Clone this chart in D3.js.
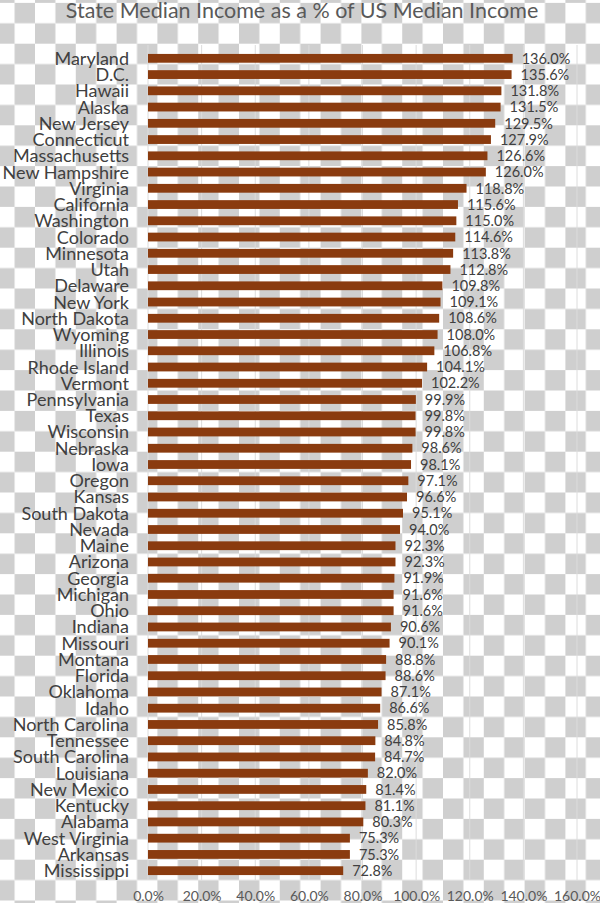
<!DOCTYPE html>
<html>
<head>
<meta charset="utf-8">
<script src="https://cdn.jsdelivr.net/npm/d3@7"></script>
<style>
  body { margin: 0; padding: 0; background: #ffffff; }
  svg { display: block; }
</style>
</head>
<body>
<div id="chart-div"></div>
<script>
// Constants for the chart
const CHART_WIDTH = 600;
const CHART_HEIGHT = 903;
const MARGIN = { left: 148, right: 23, top: 50.2, bottom: 24.2 };
const FONT = "Lato, 'Open Sans', sans-serif";
const BAR_COLOR = "#8a3b0f";

const TITLE = "State Median Income as a % of US Median Income";

const states = [
  "Maryland", "D.C.", "Hawaii", "Alaska", "New Jersey", "Connecticut",
  "Massachusetts", "New Hampshire", "Virginia", "California", "Washington",
  "Colorado", "Minnesota", "Utah", "Delaware", "New York", "North Dakota",
  "Wyoming", "Illinois", "Rhode Island", "Vermont", "Pennsylvania", "Texas",
  "Wisconsin", "Nebraska", "Iowa", "Oregon", "Kansas", "South Dakota",
  "Nevada", "Maine", "Arizona", "Georgia", "Michigan", "Ohio", "Indiana",
  "Missouri", "Montana", "Florida", "Oklahoma", "Idaho", "North Carolina",
  "Tennessee", "South Carolina", "Louisiana", "New Mexico", "Kentucky",
  "Alabama", "West Virginia", "Arkansas", "Mississippi"
];

const pctOfUS = [
  136.0, 135.6, 131.8, 131.5, 129.5, 127.9,
  126.6, 126.0, 118.8, 115.6, 115.0,
  114.6, 113.8, 112.8, 109.8, 109.1, 108.6,
  108.0, 106.8, 104.1, 102.2, 99.9, 99.8,
  99.8, 98.6, 98.1, 97.1, 96.6, 95.1,
  94.0, 92.3, 92.3, 91.9, 91.6, 91.6, 90.6,
  90.1, 88.8, 88.6, 87.1, 86.6, 85.8,
  84.8, 84.7, 82.0, 81.4, 81.1,
  80.3, 75.3, 75.3, 72.8
];

const xTicks = [0, 20, 40, 60, 80, 100, 120, 140, 160];

var svg, gGrid, gBars, gLabels;

setup();

function setup() {
  svg = d3.select("#chart-div")
    .append("svg")
    .attr("width", CHART_WIDTH)
    .attr("height", CHART_HEIGHT);

  // transparent-png checkerboard behind everything
  const tile = 20.4;
  let pattern = svg.append("defs").append("pattern")
    .attr("id", "checker")
    .attr("patternUnits", "userSpaceOnUse")
    .attr("x", -5.8)
    .attr("y", 2.9)
    .attr("width", tile * 2)
    .attr("height", tile * 2);
  pattern.append("rect").attr("width", tile * 2).attr("height", tile * 2).attr("fill", "#ffffff");
  pattern.append("rect").attr("x", tile).attr("y", 0).attr("width", tile).attr("height", tile).attr("fill", "#cfcfcf");
  pattern.append("rect").attr("x", 0).attr("y", tile).attr("width", tile).attr("height", tile).attr("fill", "#cfcfcf");

  svg.append("rect")
    .attr("width", CHART_WIDTH)
    .attr("height", CHART_HEIGHT)
    .attr("fill", "url(#checker)");

  gGrid = svg.append("g");
  gBars = svg.append("g");
  gLabels = svg.append("g");

  draw();
}

function draw() {
  let data = states.map(function (s, i) {
    return { state: s, value: pctOfUS[i] };
  });

  let xScale = d3.scaleLinear()
    .domain([0, 160])
    .range([MARGIN.left, CHART_WIDTH - MARGIN.right]);

  let yScale = d3.scaleBand()
    .domain(states)
    .range([MARGIN.top, CHART_HEIGHT - MARGIN.bottom])
    .paddingInner(0.46)
    .paddingOuter(0.23);

  // vertical gridlines
  gGrid.selectAll("line")
    .data(xTicks)
    .enter()
    .append("line")
    .attr("x1", d => xScale(d))
    .attr("x2", d => xScale(d))
    .attr("y1", 45)
    .attr("y2", 880)
    .attr("stroke", "#dcdcdc")
    .attr("stroke-width", 1);

  // x axis tick labels (no domain line)
  let xAxis = d3.axisBottom(xScale)
    .tickValues(xTicks)
    .tickSize(0)
    .tickPadding(0)
    .tickFormat(d => d3.format(".1f")(d) + "%");

  let gX = svg.append("g")
    .attr("transform", "translate(0,891)")
    .call(xAxis);
  gX.select(".domain").remove();
  gX.selectAll("text")
    .attr("font-family", FONT)
    .attr("font-size", 14)
    .attr("fill", "#595959");

  // y axis state names
  let yAxis = d3.axisLeft(yScale).tickSize(0).tickPadding(19);
  let gY = svg.append("g")
    .attr("transform", "translate(" + MARGIN.left + ",0)")
    .call(yAxis);
  gY.select(".domain").remove();
  gY.selectAll("text")
    .attr("font-family", FONT)
    .attr("font-size", 18)
    .attr("fill", "#404040")
    .attr("dy", "0.36em");

  // bars
  gBars.selectAll("rect")
    .data(data)
    .enter()
    .append("rect")
    .attr("x", xScale(0))
    .attr("y", d => yScale(d.state))
    .attr("width", d => xScale(d.value) - xScale(0))
    .attr("height", yScale.bandwidth())
    .attr("fill", BAR_COLOR);

  // value labels
  gLabels.selectAll("text")
    .data(data)
    .enter()
    .append("text")
    .attr("x", d => xScale(d.value) + 9)
    .attr("y", d => yScale(d.state) + yScale.bandwidth() / 2)
    .attr("dy", "0.36em")
    .attr("font-family", FONT)
    .attr("font-size", 14.5)
    .attr("fill", "#404040")
    .text(d => d.value.toFixed(1) + "%");

  // title
  svg.append("text")
    .attr("x", 302)
    .attr("y", 18)
    .attr("text-anchor", "middle")
    .attr("font-family", FONT)
    .attr("font-size", 21.5)
    .attr("fill", "#595959")
    .text(TITLE);
}
</script>
</body>
</html>
